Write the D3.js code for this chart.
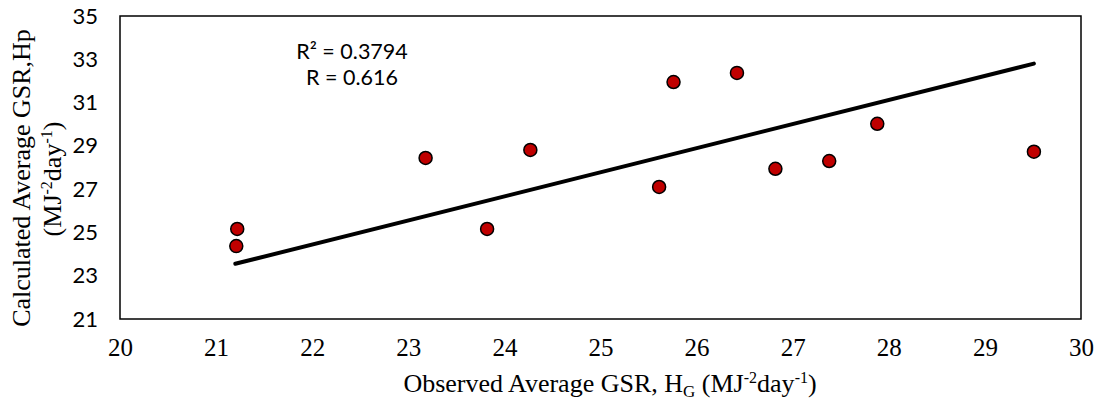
<!DOCTYPE html>
<html>
<head>
<meta charset="utf-8">
<script src="https://cdn.jsdelivr.net/npm/d3@7"></script>
<style>
  html, body { margin: 0; padding: 0; background: #fff; }
  svg { display: block; }
</style>
</head>
<body>
<svg id="chart" width="1099" height="405"></svg>
<script>
// ---- data ----
const observed   = [21.22, 21.21, 23.18, 23.82, 24.27, 25.61, 25.76, 26.42, 26.82, 27.38, 27.88, 29.51];
const calculated = [25.16, 24.37, 28.44, 25.16, 28.81, 27.10, 31.95, 32.37, 27.94, 28.30, 30.02, 28.73];
const trendX = [21.20, 29.51];
const trendY = [23.55, 32.80];
const xTicks = [20, 21, 22, 23, 24, 25, 26, 27, 28, 29, 30];
const yTicks = [21, 23, 25, 27, 29, 31, 33, 35];
const annotations = ["R² = 0.3794", "R = 0.616"];

// ---- layout ----
const svg = d3.select("#chart");
const L = 120, R = 1081, T = 16, B = 319;
const x = d3.scaleLinear().domain([20, 30]).range([L, R]);
const y = d3.scaleLinear().domain([21, 35]).range([B, T]);
const serif = "'Liberation Serif', 'Times New Roman', serif";
const sans = "Lato, 'Open Sans', sans-serif";

// plot border
svg.append("rect")
  .attr("x", L).attr("y", T).attr("width", R - L).attr("height", B - T)
  .attr("fill", "none").attr("stroke", "#000").attr("stroke-width", 1.5);

// x axis labels
const xAxis = d3.axisBottom(x).tickValues(xTicks).tickSize(0).tickPadding(0).tickFormat(d3.format("d"));
const gx = svg.append("g").attr("transform", `translate(0,${B})`).call(xAxis);
gx.select(".domain").remove();
gx.selectAll("text")
  .attr("dy", null).attr("y", 37)
  .attr("font-family", serif)
  .attr("font-size", 25).attr("fill", "#000");

// y axis labels
const yAxis = d3.axisLeft(y).tickValues(yTicks).tickSize(0).tickPadding(22).tickFormat(d3.format("d"));
const gy = svg.append("g").attr("transform", `translate(${L},0)`).call(yAxis);
gy.select(".domain").remove();
gy.selectAll("text")
  .attr("font-family", sans)
  .attr("font-size", 22).attr("fill", "#000");

// trendline
const line = d3.line().x(d => x(d[0])).y(d => y(d[1]));
svg.append("path")
  .datum(trendX.map((v, i) => [v, trendY[i]]))
  .attr("d", line)
  .attr("fill", "none").attr("stroke", "#000").attr("stroke-width", 4)
  .attr("stroke-linecap", "round");

// points
svg.append("g").selectAll("circle")
  .data(observed.map((v, i) => [v, calculated[i]]))
  .join("circle")
  .attr("cx", d => x(d[0])).attr("cy", d => y(d[1])).attr("r", 6.5)
  .attr("fill", "#C00000").attr("stroke", "#000").attr("stroke-width", 1.5);

// annotation
svg.append("g").selectAll("text")
  .data(annotations)
  .join("text")
  .attr("x", 352).attr("y", (d, i) => 59 + i * 26)
  .attr("text-anchor", "middle")
  .attr("font-family", sans)
  .attr("font-size", 21.5).attr("fill", "#000")
  .text(d => d);

// x axis title
const xt = svg.append("text")
  .attr("x", 610).attr("y", 392)
  .attr("text-anchor", "middle")
  .attr("font-family", serif).attr("font-size", 26).attr("fill", "#000");
xt.append("tspan").text("Observed Average GSR, H");
xt.append("tspan").attr("font-size", 17).attr("dy", 5).text("G");
xt.append("tspan").attr("dy", -5).text(" (MJ");
xt.append("tspan").attr("font-size", 16).attr("dy", -9).text("-2");
xt.append("tspan").attr("dy", 9).text("day");
xt.append("tspan").attr("font-size", 16).attr("dy", -9).text("-1");
xt.append("tspan").attr("dy", 9).text(")");

// y axis title (two lines)
svg.append("text")
  .attr("transform", "translate(30,178) rotate(-90)")
  .attr("text-anchor", "middle")
  .attr("font-family", serif).attr("font-size", 26).attr("fill", "#000")
  .text("Calculated Average GSR,Hp");
const yt2 = svg.append("text")
  .attr("transform", "translate(61,179) rotate(-90)")
  .attr("text-anchor", "middle")
  .attr("font-family", serif).attr("font-size", 26).attr("fill", "#000");
yt2.append("tspan").text("(MJ");
yt2.append("tspan").attr("font-size", 16).attr("dy", -9).text("-2");
yt2.append("tspan").attr("dy", 9).text("day");
yt2.append("tspan").attr("font-size", 16).attr("dy", -9).text("-1");
yt2.append("tspan").attr("dy", 9).text(")");
</script>
</body>
</html>
